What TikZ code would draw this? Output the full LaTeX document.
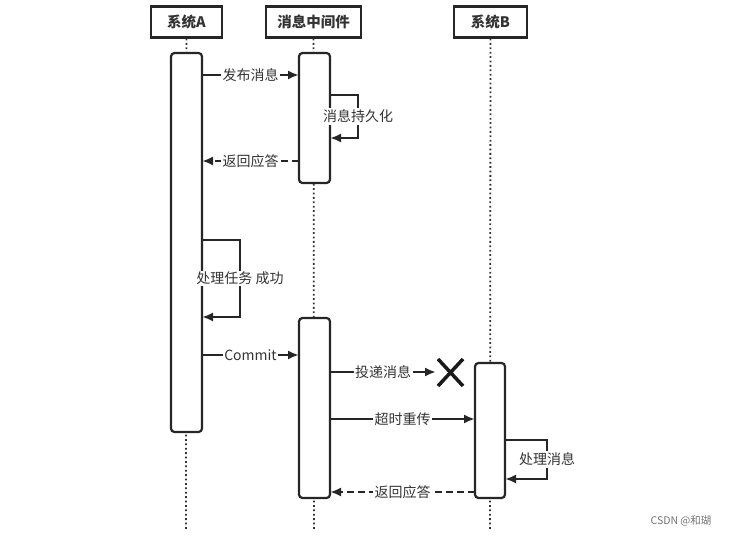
\documentclass[tikz,border=0pt]{standalone}
\usepackage{fontspec}
\setmainfont{Noto Sans CJK SC}
\usetikzlibrary{arrows.meta}
\begin{document}
\begin{tikzpicture}[x=1pt,y=-1pt,
  every node/.style={font=\fontsize{14}{16}\selectfont, text=black!80},
  head/.style={draw=black!85, line width=2.2pt, minimum width=71pt, minimum height=31pt, inner sep=0pt, font=\fontsize{14.5}{16}\selectfont\bfseries},
  act/.style={draw=black!85, line width=2.2pt, rounded corners=3.5pt, fill=white},
  life/.style={black!80, line width=1.8pt, dash pattern=on 1.8pt off 2.6pt},
  msg/.style={black!85, line width=2.2pt, -{Latex[length=11pt,width=9pt]}},
  ret/.style={msg, dash pattern=on 7pt off 4pt},
  lbl/.style={fill=white, inner sep=1.5pt}
]
\useasboundingbox (0,0) rectangle (736,537);
% headers
\node[head] (hA) at (186.5,22) {系统A};
\node[head, minimum width=95pt] (hM) at (313.5,22) {消息中间件};
\node[head, minimum width=73pt] (hB) at (490.5,22) {系统B};
% lifelines
\coordinate (eA) at (186,530);
\coordinate (eM) at (314,530);
\coordinate (eB) at (490,530);
\draw[life] (hA.south) -- (eA);
\draw[life] (hM.south) -- (eM);
\draw[life] (hB.south) -- (eB);
% activations
\draw[act] (171,53) rectangle (202,432);
\draw[act] (299,53) rectangle (330,183);
\draw[act] (299,318) rectangle (330,498);
\draw[act] (475,363) rectangle (505,498);
\coordinate (a1) at (202,75);  \coordinate (m1) at (299,75);
\coordinate (m2) at (299,161); \coordinate (a2) at (202,161);
\coordinate (a3) at (202,355); \coordinate (m3) at (299,355);
\coordinate (m4) at (330,372); \coordinate (x1) at (436,372);
\coordinate (m5) at (330,419); \coordinate (b5) at (475,419);
\coordinate (b6) at (475,492); \coordinate (m6) at (330,492);
% messages
\draw[msg] (a1) -- node[lbl] (l1) {发布消息} (m1);
\draw[msg] (330,95) -- (358,95) -- node[lbl] (l2) {消息持久化} (358,138) -- (330,138);
\draw[ret] (m2) -- node[lbl] (l3) {返回应答} (a2);
\draw[msg] (202,240) -- (240,240) -- node[lbl] (l4) {处理任务 成功} (240,317) -- (202,317);
\draw[msg] (a3) -- node[lbl] (l5) {Commit} (m3);
\draw[msg] (m4) -- node[lbl] (l6) {投递消息} (x1);
\draw[black!90, line width=3.5pt] (438,359) -- (463,386) (463,359) -- (438,386);
\draw[msg] (m5) -- node[lbl] (l7) {超时重传} (b5);
\draw[msg] (505,440) -- (547,440) -- node[lbl] (l8) {处理消息} (547,479) -- (505,479);
\draw[ret] (b6) -- node[lbl] (l9) {返回应答} (m6);
\node[text=black!55, font=\fontsize{10.5}{12}\selectfont] (wm) at (681,521) {CSDN @和瑚};
\end{tikzpicture}
\end{document}
